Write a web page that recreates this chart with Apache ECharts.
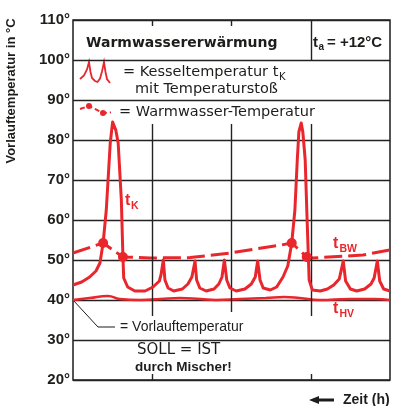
<!DOCTYPE html>
<html>
<head>
<meta charset="utf-8">
<script src="https://cdn.jsdelivr.net/npm/echarts@6/dist/echarts.min.js"></script>
<style>
  html, body { margin: 0; padding: 0; background: #fff; }
  #main { width: 407px; height: 406px; }
</style>
</head>
<body>
<div id="main"></div>
<script>
// Kesseltemperatur tK (hours, °C)
const kesselHours = [0, 0.11, 0.21, 0.29, 0.34, 0.38, 0.42, 0.47, 0.5, 0.54, 0.57, 0.61, 0.63, 0.64, 0.69, 0.78, 0.91,
  1.01, 1.09, 1.11, 1.14, 1.16, 1.2, 1.27, 1.38, 1.45, 1.5, 1.54, 1.56, 1.6, 1.68, 1.78, 1.84, 1.88, 1.91, 1.94, 1.98,
  2.06, 2.17, 2.25, 2.3, 2.33, 2.36, 2.4, 2.49, 2.57, 2.65, 2.71, 2.76, 2.8, 2.83, 2.85, 2.88, 2.9, 2.93, 2.95, 2.97, 2.98,
  3.02, 3.12, 3.21, 3.29, 3.36, 3.41, 3.44, 3.5, 3.58, 3.68, 3.76, 3.8, 3.84, 3.87, 3.92, 4];
const kesselTemp = [43.75, 44.5, 45.75, 47.25, 49.25, 54.25, 62.5, 79.25, 84.5, 82.5, 79.25, 65, 50.75, 45.5, 43.25, 42.25, 42.25,
  43.25, 44.75, 46.25, 50, 45, 43, 42.25, 42.75, 44, 45.75, 49.75, 45, 43, 42.25, 42.75, 44, 45.75, 50, 45, 43,
  42.25, 42.75, 44, 45.75, 49.75, 45, 43, 42.5, 43.25, 45.75, 48.5, 54.25, 62.5, 75, 82, 84.25, 82, 75, 62.5, 50.75, 45,
  42.5, 42.25, 42.75, 43.75, 45.25, 49.75, 44.75, 42.75, 42.25, 42.75, 44, 45.5, 49.75, 44.75, 42.75, 42.25];

// Warmwasser-Temperatur tBW
const warmHours = [0, 0.38, 0.63, 0.97, 1.48, 1.98, 2.63, 2.76, 2.95, 3.03, 3.66, 4];
const warmTemp = [51.75, 54.25, 50.75, 50.5, 50.6, 51.75, 53.75, 54.25, 50.75, 50.5, 51.25, 52.5];
const warmDots = [1, 2, 7, 8];

// Vorlauftemperatur tHV
const vorlaufHours = [0, 0.21, 0.44, 0.59, 0.85, 1.1, 1.35, 1.61, 1.8, 2.11, 2.43, 2.67, 2.86, 3.11, 3.49, 3.8, 4];
const vorlaufTemp = [40, 40.5, 41, 40.25, 40, 40.25, 40.5, 40.25, 40, 40.25, 40.5, 40.75, 40.5, 40, 40.25, 40.25, 40];

const yTicks = [20, 30, 40, 50, 60, 70, 80, 90, 100, 110];

const RED = '#e9262c';
const INK = '#1d1d1b';

let myChart = echarts.init(document.getElementById('main'));

const pair = (xs, ys) => xs.map((x, i) => [x, ys[i]]);

let options = {
  animation: false,
  grid: { left: 73, right: 17, top: 20, bottom: 26, show: true, borderColor: INK, borderWidth: 1.5 },
  xAxis: {
    type: 'value', min: 0, max: 4, interval: 1,
    axisLine: { show: false }, axisTick: { show: false }, axisLabel: { show: false }, splitLine: { show: false }
  },
  yAxis: {
    type: 'value', min: yTicks[0], max: yTicks[yTicks.length - 1], interval: 10,
    axisLine: { show: false }, axisTick: { show: false },
    axisLabel: {
      formatter: '{value}°', fontFamily: 'Liberation Sans', fontWeight: 'bold', fontSize: 15, color: INK, margin: 3
    },
    splitLine: { lineStyle: { color: '#222', width: 1.4 } }
  },
  series: [
    {
      // partial grid lines and leader line for "Vorlauftemperatur"
      type: 'line',
      data: [[0, 40], [0.315, 33.25], [0.53, 33.25]],
      symbol: 'none',
      lineStyle: { color: INK, width: 1 },
      z: 1,
      markLine: {
        silent: true,
        symbol: ['none', 'none'],
        label: { show: false },
        lineStyle: { color: '#222', width: 1.4, type: 'solid' },
        data: [
          [{ coord: [1, 84] }, { coord: [1, 36] }],
          [{ coord: [2, 84] }, { coord: [2, 37] }],
          [{ coord: [3, 84] }, { coord: [3, 36] }],
          [{ coord: [3, 100] }, { coord: [3, 110] }],
          [{ coord: [1, 20] }, { coord: [1, 21.5] }],
          [{ coord: [3, 20] }, { coord: [3, 21.5] }],
          [{ coord: [1, 110] }, { coord: [1, 108.5] }],
          [{ coord: [2, 110] }, { coord: [2, 108.5] }]
        ]
      }
    },
    {
      name: 'Vorlauftemperatur',
      type: 'line',
      data: pair(vorlaufHours, vorlaufTemp),
      smooth: true,
      symbol: 'none',
      lineStyle: { color: RED, width: 2.5 },
      z: 3
    },
    {
      name: 'Warmwasser-Temperatur',
      type: 'line',
      data: pair(warmHours, warmTemp),
      symbol: 'none',
      lineStyle: { color: RED, width: 3, type: [18, 6] },
      z: 4
    },
    {
      name: 'Kesseltemperatur',
      type: 'line',
      data: pair(kesselHours, kesselTemp),
      symbol: 'none',
      lineStyle: { color: RED, width: 3, join: 'round' },
      z: 5
    },
    {
      name: 'Warmwasser-Punkte',
      type: 'scatter',
      data: warmDots.map(i => [warmHours[i], warmTemp[i]]),
      symbol: 'circle',
      symbolSize: 10,
      itemStyle: { color: RED, opacity: 1 },
      z: 6
    }
  ],
  graphic: [
    { type: 'text', x: 11, y: 91, rotation: Math.PI / 2,
      style: { text: 'Vorlauftemperatur in °C', font: 'bold 13px "Liberation Sans"', fill: INK, align: 'center', verticalAlign: 'middle' } },
    // title row
    { type: 'text', x: 86, y: 43,
      style: { text: 'Warmwassererwärmung', font: 'bold 14px "DejaVu Sans"', fill: INK, verticalAlign: 'middle' } },
    { type: 'text', x: 313, y: 43,
      style: { text: 't', font: 'bold 15px "Liberation Sans"', fill: INK, verticalAlign: 'middle' } },
    { type: 'text', x: 318.5, y: 47,
      style: { text: 'a', font: 'bold 10px "Liberation Sans"', fill: INK, verticalAlign: 'middle' } },
    { type: 'text', x: 327, y: 43,
      style: { text: '= +12°C', font: 'bold 15px "Liberation Sans"', fill: INK, verticalAlign: 'middle' } },
    // legend: Kesseltemperatur
    { type: 'polyline',
      shape: { points: [[80, 79], [84, 75.5], [87, 69.5], [89, 62], [90.5, 72], [92, 78], [95, 81], [97.5, 82], [100, 78.5], [102, 71.5], [104, 62], [105.5, 72], [107, 79], [110, 83]] },
      style: { stroke: RED, lineWidth: 1.8, fill: null } },
    { type: 'text', x: 123, y: 72,
      style: { text: '= Kesseltemperatur t', font: '14.5px "DejaVu Sans"', fill: INK, verticalAlign: 'middle' } },
    { type: 'text', x: 279, y: 77,
      style: { text: 'K', font: '10px "DejaVu Sans"', fill: INK, verticalAlign: 'middle' } },
    { type: 'text', x: 135, y: 89,
      style: { text: 'mit Temperaturstoß', font: '14.5px "DejaVu Sans"', fill: INK, verticalAlign: 'middle' } },
    // legend: Warmwasser-Temperatur
    { type: 'polyline', shape: { points: [[80, 109], [89, 106], [103, 113], [111, 112.5]] },
      style: { stroke: RED, lineWidth: 2, lineDash: [5, 3], fill: null } },
    { type: 'circle', shape: { cx: 89, cy: 106, r: 3 }, style: { fill: RED } },
    { type: 'circle', shape: { cx: 103, cy: 113, r: 3 }, style: { fill: RED } },
    { type: 'text', x: 119, y: 112,
      style: { text: '= Warmwasser-Temperatur', font: '14.5px "DejaVu Sans"', fill: INK, verticalAlign: 'middle' } },
    // curve labels
    { type: 'text', x: 125, y: 201,
      style: { text: 't', font: 'bold 16px "Liberation Sans"', fill: RED, verticalAlign: 'middle' } },
    { type: 'text', x: 131, y: 206,
      style: { text: 'K', font: 'bold 10.5px "Liberation Sans"', fill: RED, verticalAlign: 'middle' } },
    { type: 'text', x: 333, y: 244,
      style: { text: 't', font: 'bold 16px "Liberation Sans"', fill: RED, verticalAlign: 'middle' } },
    { type: 'text', x: 339.5, y: 249,
      style: { text: 'BW', font: 'bold 10.5px "Liberation Sans"', fill: RED, verticalAlign: 'middle' } },
    { type: 'text', x: 333, y: 309,
      style: { text: 't', font: 'bold 16px "Liberation Sans"', fill: RED, verticalAlign: 'middle' } },
    { type: 'text', x: 339.5, y: 314,
      style: { text: 'HV', font: 'bold 10.5px "Liberation Sans"', fill: RED, verticalAlign: 'middle' } },
    // lower notes
    { type: 'text', x: 120, y: 327,
      style: { text: '= Vorlauftemperatur', font: '14px "Liberation Sans"', fill: INK, verticalAlign: 'middle' } },
    { type: 'text', x: 137, y: 350,
      style: { text: 'SOLL = IST', font: '15px "DejaVu Sans"', fill: INK, verticalAlign: 'middle' } },
    { type: 'text', x: 135, y: 367,
      style: { text: 'durch Mischer!', font: 'bold 13.5px "Liberation Sans"', fill: INK, verticalAlign: 'middle' } },
    // time arrow
    { type: 'line', shape: { x1: 316, y1: 400, x2: 334, y2: 400 }, style: { stroke: INK, lineWidth: 3 } },
    { type: 'polygon', shape: { points: [[309, 400], [319, 396], [319, 404]] }, style: { fill: INK } },
    { type: 'text', x: 343, y: 400,
      style: { text: 'Zeit (h)', font: 'bold 14px "Liberation Sans"', fill: INK, verticalAlign: 'middle' } }
  ]
};

myChart.setOption(options);
</script>
</body>
</html>
